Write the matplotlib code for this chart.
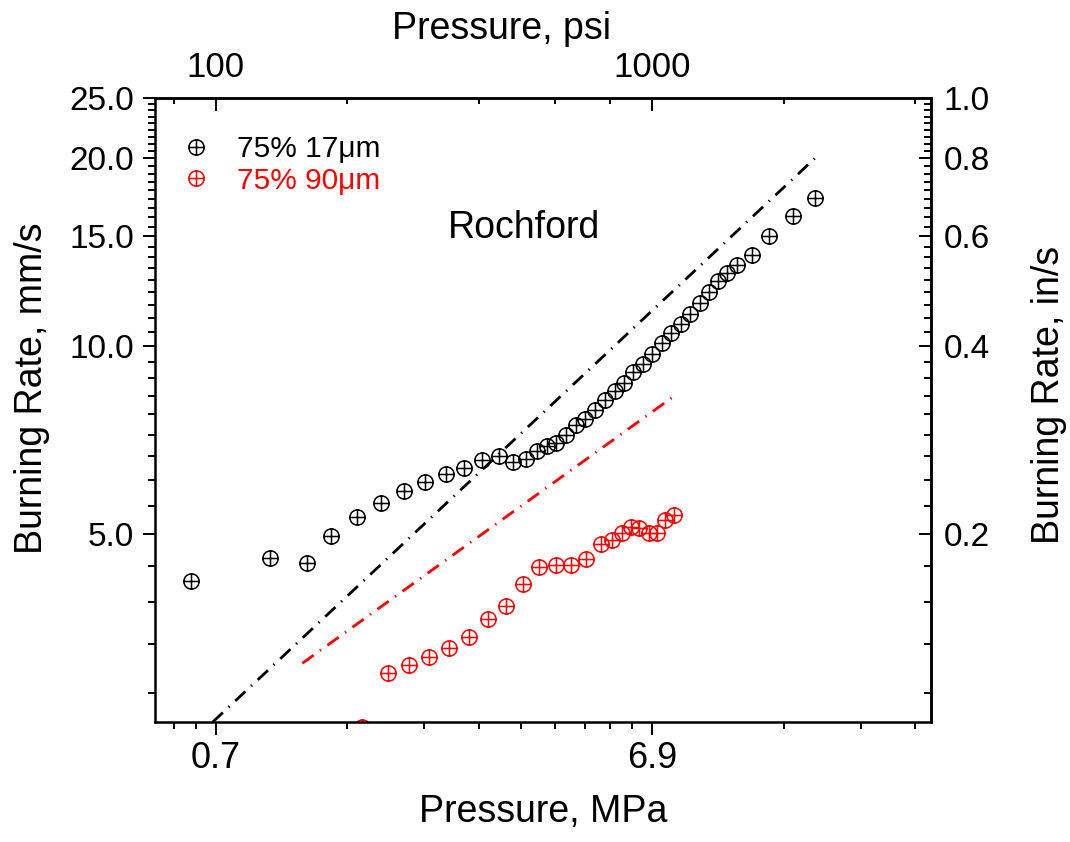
"""Burning rate vs pressure, Rochford 75% AP (17 um vs 90 um)."""

import numpy as np
import matplotlib
matplotlib.use("Agg")
import matplotlib.pyplot as plt
from matplotlib.path import Path
from matplotlib.ticker import FixedLocator, NullFormatter

plt.rcParams["font.family"] = ["Liberation Sans", "DejaVu Sans"]

# ── data ─────────────────────────────────────────────────────────────────────
p_17 = [0.604, 0.919, 1.115, 1.268, 1.454, 1.645, 1.860, 2.075, 2.318, 2.549,
        2.803, 3.071, 3.300, 3.535, 3.747, 3.950, 4.148, 4.373, 4.617, 4.841,
        5.094, 5.364, 5.654, 5.939, 6.237, 6.553, 6.885, 7.246, 7.623, 8.021,
        8.413, 8.869, 9.285, 9.752, 10.21, 10.80, 11.65, 12.78, 14.46, 16.24]
r_17 = [4.20, 4.58, 4.50, 4.97, 5.33, 5.60, 5.86, 6.06, 6.25, 6.39,
        6.58, 6.67, 6.53, 6.61, 6.79, 6.91, 6.99, 7.20, 7.48, 7.65,
        7.90, 8.19, 8.48, 8.75, 9.11, 9.36, 9.73, 10.12, 10.50, 10.87,
        11.25, 11.73, 12.20, 12.72, 13.10, 13.48, 14.00, 15.04, 16.19, 17.29]

p_90 = [1.493, 1.707, 1.912, 2.120, 2.362, 2.622, 2.890, 3.191, 3.489, 3.793,
        4.148, 4.497, 4.867, 5.250, 5.582, 5.885, 6.152, 6.439, 6.766, 7.066,
        7.383, 7.719]
r_90 = [2.456, 2.99, 3.09, 3.18, 3.28, 3.42, 3.65, 3.84, 4.16, 4.43,
        4.46, 4.46, 4.56, 4.82, 4.90, 5.02, 5.14, 5.12, 5.03, 5.03,
        5.26, 5.37]

# power-law fits (dash-dot lines), end points
p_fit_17 = [0.678, 16.24]
r_fit_17 = [2.5, 20.0]
p_fit_90 = [1.088, 7.73]
r_fit_90 = [3.105, 8.32]

labels = ["75% 17\u03bcm", "75% 90\u03bcm"]

PSI_TO_MPA = 0.0068948
MMS_PER_INS = 25.0

psi_major = [100, 1000]
psi_major_labels = ["100", "1000"]
psi_minor_top = [80, 200, 400, 600, 800, 2000, 4000]
psi_minor_bottom = [80, 90, 200, 300, 400, 500, 600, 700, 800, 900, 2000, 3000, 4000]
mpa_major_labels = ["0.7", "6.9"]

rate_major = [5, 10, 15, 20, 25]
rate_major_labels = ["5.0", "10.0", "15.0", "20.0", "25.0"]
ins_major = [0.2, 0.4, 0.6, 0.8, 1.0]
ins_major_labels = ["0.2", "0.4", "0.6", "0.8", "1.0"]

# circle with a cross, as one marker
_c = Path.unit_circle()
_h = Path([[-1, 0], [1, 0]], [Path.MOVETO, Path.LINETO])
_v = Path([[0, -1], [0, 1]], [Path.MOVETO, Path.LINETO])
OPLUS = Path.make_compound_path(_c, _h, _v)

W, H = 1070, 842
fig = plt.figure(figsize=(W / 100, H / 100), dpi=100)
L, R, T, B = 155, 931, 98, 722
ax = fig.add_axes([L / W, 1 - B / H, (R - L) / W, (B - T) / H])

ax.set_xscale("log")
ax.set_yscale("log")
ax.set_xlim(0.5, 30)
ax.set_ylim(2.5, 25)

mk = dict(marker=OPLUS, ms=11, mew=1.1, mfc="none", ls="none")
ax.plot(p_17, r_17, color="black", mec="black", label=labels[0], **mk)
ax.plot(p_90, r_90, color="red", mec="red", label=labels[1], **mk)

dash = (0, (5.0, 2.8, 0.5, 2.8))
ax.plot(p_fit_17, r_fit_17, color="black", lw=2.0, ls=dash)
ax.plot(p_fit_90, r_fit_90, color="red", lw=2.0, ls=dash)

# ── bottom axis (MPa, ticks at psi decades) ───────────────────────────────────
ax.xaxis.set_major_locator(FixedLocator([p * PSI_TO_MPA for p in psi_major]))
ax.set_xticklabels(mpa_major_labels)
ax.xaxis.set_minor_locator(FixedLocator([p * PSI_TO_MPA for p in psi_minor_bottom]))
ax.xaxis.set_minor_formatter(NullFormatter())

# ── left axis (mm/s) ─────────────────────────────────────────────────────────
step = 5 / 9
rate_minor = [5 + k * step for k in range(-4, 37) if k % 9 != 0]
rate_minor = [v for v in rate_minor if 2.5 <= v <= 25]
ax.yaxis.set_major_locator(FixedLocator(rate_major))
ax.set_yticklabels(rate_major_labels)
ax.yaxis.set_minor_locator(FixedLocator(rate_minor))
ax.yaxis.set_minor_formatter(NullFormatter())

ax.tick_params(which="both", direction="out", width=1.4, top=False, right=False)
ax.tick_params(axis="x", which="major", length=9, labelsize=26, pad=5)
ax.tick_params(axis="x", which="minor", length=5)
ax.tick_params(axis="y", which="major", length=9, labelsize=24, pad=6)
ax.tick_params(axis="y", which="minor", length=5)
for s in ax.spines.values():
    s.set_linewidth(1.8)

# ── top axis (psi) ───────────────────────────────────────────────────────────
secx = ax.secondary_xaxis("top", functions=(lambda p: p / PSI_TO_MPA,
                                            lambda p: p * PSI_TO_MPA))
secx.xaxis.set_major_locator(FixedLocator(psi_major))
secx.set_xticklabels(psi_major_labels)
secx.xaxis.set_minor_locator(FixedLocator(psi_minor_top))
secx.xaxis.set_minor_formatter(NullFormatter())
secx.tick_params(which="both", direction="in", width=1.4)
secx.tick_params(which="major", length=9, labelsize=25, pad=10)
secx.tick_params(which="minor", length=4)
secx.spines["top"].set_linewidth(1.8)

# ── right axis (in/s) ────────────────────────────────────────────────────────
step_in = 0.2 / 9
ins_minor = [0.2 + k * step_in for k in range(-4, 37) if k % 9 != 0]
ins_minor = [v for v in ins_minor if 0.1 <= v <= 1.0]
secy = ax.secondary_yaxis("right", functions=(lambda v: v / MMS_PER_INS,
                                              lambda v: v * MMS_PER_INS))
secy.yaxis.set_major_locator(FixedLocator(ins_major))
secy.set_yticklabels(ins_major_labels)
secy.yaxis.set_minor_locator(FixedLocator(ins_minor))
secy.yaxis.set_minor_formatter(NullFormatter())
secy.tick_params(which="both", direction="in", width=1.4)
secy.tick_params(which="major", length=9, labelsize=24, pad=9)
secy.tick_params(which="minor", length=5)
secy.spines["right"].set_linewidth(1.8)

# ── labels ───────────────────────────────────────────────────────────────────
fig.text(543 / W, 1 - 822 / H, "Pressure, MPa", ha="center", va="baseline", fontsize=27)
fig.text(502 / W, 1 - 39 / H, "Pressure, psi", ha="center", va="baseline", fontsize=27)
fig.text(32 / W, 1 - 388 / H, "Burning Rate, mm/s", rotation=90,
         ha="center", va="center", fontsize=27)
fig.text(1049 / W, 1 - 395 / H, "Burning Rate, in/s", rotation=90,
         ha="center", va="center", fontsize=27)

ax.text((448 - L) / (R - L), (B - 238) / (B - T), "Rochford",
        transform=ax.transAxes, ha="left", va="baseline", fontsize=27)

leg = ax.legend(loc="upper left", bbox_to_anchor=(27 / (R - L), 1 - 37 / (B - T)),
                frameon=False, fontsize=21.5, numpoints=1, handlelength=0.95,
                handletextpad=0.9, labelspacing=0.12, borderpad=0,
                borderaxespad=0, labelcolor="linecolor")

fig.savefig("out.png", dpi=100)
